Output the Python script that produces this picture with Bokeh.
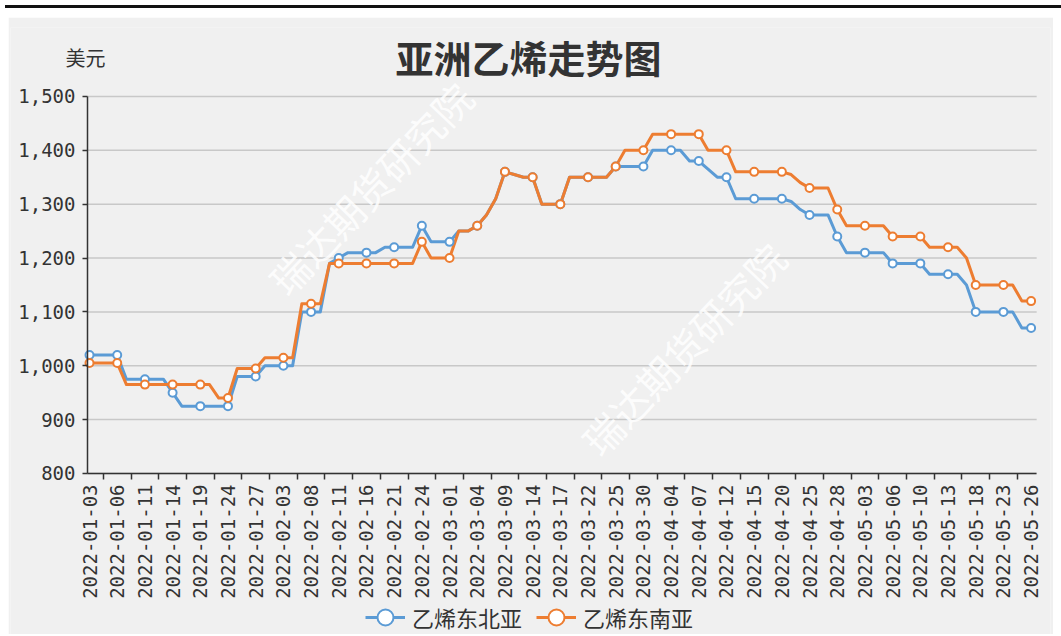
import math
from bokeh.plotting import figure
from bokeh.models import (Range1d, FixedTicker, NumeralTickFormatter, Label, Legend,
                          LegendItem, ColumnDataSource, Div)
from bokeh.layouts import column
from bokeh.embed import file_html
from bokeh.resources import INLINE

# ---------------- data ----------------
month_days = [
    "01-03","01-04","01-05","01-06","01-07","01-10","01-11","01-12","01-13","01-14",
    "01-17","01-18","01-19","01-20","01-21","01-24","01-25","01-26","01-27","01-28","01-31",
    "02-03","02-04","02-07","02-08","02-09","02-10","02-11","02-14","02-15","02-16",
    "02-17","02-18","02-21","02-22","02-23","02-24","02-25","02-28",
    "03-01","03-02","03-03","03-04","03-07","03-08","03-09","03-10","03-11","03-14",
    "03-15","03-16","03-17","03-18","03-21","03-22","03-23","03-24","03-25","03-28",
    "03-29","03-30","03-31",
    "04-01","04-04","04-05","04-06","04-07","04-08","04-11","04-12","04-13","04-14",
    "04-15","04-18","04-19","04-20","04-21","04-22","04-25","04-26","04-27","04-28","04-29",
    "05-02","05-03","05-04","05-05","05-06","05-07","05-09","05-10","05-11","05-12",
    "05-13","05-16","05-17","05-18","05-19","05-20","05-23","05-24","05-25","05-26",
]
dates = ["2022-" + d for d in month_days]

ne_asia = [
    1020, 1020, 1020, 1020,
    975, 975, 975, 975, 975,
    950,
    925, 925, 925, 925, 925, 925,
    980, 980, 980,
    1000, 1000, 1000, 1000,
    1100, 1100, 1100,
    1190, 1200,
    1210, 1210, 1210, 1210,
    1220, 1220, 1220, 1220,
    1260,
    1230, 1230, 1230,
    1250, 1250,
    1260, 1280, 1310, 1360, 1355, 1350, 1350,
    1300, 1300, 1300,
    1350, 1350, 1350, 1350, 1350,
    1370, 1370, 1370, 1370,
    1400, 1400, 1400, 1400,
    1380, 1380,
    1365, 1350, 1350,
    1310, 1310, 1310, 1310, 1310, 1310,
    1305, 1290,
    1280, 1280, 1280,
    1240,
    1210, 1210, 1210, 1210, 1210,
    1190, 1190, 1190, 1190,
    1170, 1170, 1170, 1170,
    1150,
    1100, 1100, 1100, 1100, 1100,
    1070, 1070,
]

se_asia = [
    1005, 1005, 1005, 1005,
    965, 965, 965, 965, 965, 965, 965, 965, 965, 965,
    940, 940,
    995, 995, 995,
    1015, 1015, 1015, 1015,
    1115, 1115, 1115,
    1190, 1190, 1190, 1190, 1190, 1190, 1190, 1190, 1190, 1190,
    1230,
    1200, 1200, 1200,
    1250, 1250,
    1260, 1280, 1310, 1360, 1355, 1350, 1350,
    1300, 1300, 1300,
    1350, 1350, 1350, 1350, 1350,
    1370,
    1400, 1400, 1400,
    1430, 1430, 1430, 1430, 1430, 1430,
    1400, 1400, 1400,
    1360, 1360, 1360, 1360, 1360, 1360,
    1355, 1340,
    1330, 1330, 1330,
    1290,
    1260, 1260, 1260, 1260, 1260,
    1240, 1240, 1240, 1240,
    1220, 1220, 1220, 1220,
    1200,
    1150, 1150, 1150, 1150, 1150,
    1120, 1120,
]

series_names = ["乙烯东北亚", "乙烯东南亚"]
y_ticks = [800, 900, 1000, 1100, 1200, 1300, 1400, 1500]
title_text = "亚洲乙烯走势图"
unit_text = "美元"
watermark = "瑞达期货研究院"

# ---------------- styling ----------------
BG = "#f0f0f0"
BLUE = "#5b9bd5"
ORANGE = "#ed7d31"
TXT = "#333333"
CJK = "Noto Sans CJK SC"
NUM = "DejaVu Sans Mono"

n = len(dates)
idx = list(range(n))
label_step = 3
label_idx = [i for i in idx if i % label_step == 0]

X0, X1 = -0.22, 102.6          # extent of the plotted axis
src = ColumnDataSource(dict(x=idx, ne=ne_asia, se=se_asia))
msrc = ColumnDataSource(dict(x=label_idx,
                             ne=[ne_asia[i] for i in label_idx],
                             se=[se_asia[i] for i in label_idx]))
gsrc = ColumnDataSource(dict(y=y_ticks, x0=[X0] * len(y_ticks), x1=[X1] * len(y_ticks)))

W, H = 1045, 617
Y_TOP = 1628   # room above the axis for title / unit
Y_BOT = 501    # room below the axis for tick labels / legend
p = figure(width=W, height=H, output_backend="svg", toolbar_location=None,
           x_range=Range1d(-8.56, 104.1), y_range=Range1d(Y_BOT, Y_TOP),
           min_border_left=2, min_border_right=3, min_border_top=10, min_border_bottom=0,
           background_fill_color=BG, border_fill_color=BG, outline_line_color=None)
p.margin = (0, 0, 0, 8)

# grid lines (only across the axis extent)
p.xgrid.visible = False
p.ygrid.visible = False
p.segment(x0="x0", x1="x1", y0="y", y1="y", source=gsrc,
          line_color="#c8c8c8", line_width=1.5)

# x axis, pinned at y = 800
xa = p.xaxis[0]
xa.fixed_location = 800
xa.bounds = (X0, X1)
xa.ticker = FixedTicker(ticks=label_idx, minor_ticks=[i + 1.5 for i in label_idx[:-1]])
xa.major_label_overrides = {i: dates[i] for i in label_idx}
xa.major_label_orientation = math.pi / 2
xa.major_tick_line_color = None
xa.major_tick_out = 6
xa.major_tick_in = 0
xa.minor_tick_line_color = TXT
xa.minor_tick_out = 6
xa.minor_tick_in = 0
xa.minor_tick_line_width = 1.5
xa.major_label_standoff = 5
xa.axis_line_color = TXT
xa.axis_line_width = 1.5
xa.major_label_text_font = NUM
xa.major_label_text_font_size = "19px"
xa.major_label_text_color = TXT

# y axis, pinned at the left end of the x extent
ya = p.yaxis[0]
ya.fixed_location = X0
ya.ticker = FixedTicker(ticks=y_ticks)
ya.bounds = (800, 1500)
ya.formatter = NumeralTickFormatter(format="0,0")
ya.major_tick_out = 5
ya.major_tick_in = 0
ya.major_tick_line_color = TXT
ya.major_tick_line_width = 1.5
ya.minor_tick_line_color = None
ya.axis_line_color = TXT
ya.axis_line_width = 1.5
ya.major_label_standoff = 7
ya.major_label_text_font = NUM
ya.major_label_text_font_size = "19px"
ya.major_label_text_color = TXT

# watermarks
for wx, wy in [(30.4, 1330), (64.3, 1032)]:
    p.add_layout(Label(x=wx, y=wy, text=watermark, angle=0.81,
                       text_align="center", text_baseline="middle",
                       text_font=CJK, text_font_size="39px",
                       text_color="white", text_alpha=0.85))

# lines and markers
l_ne = p.line("x", "ne", source=src, color=BLUE, line_width=3, line_join="round")
l_se = p.line("x", "se", source=src, color=ORANGE, line_width=3, line_join="round")
m_ne = p.scatter("x", "ne", source=msrc, size=8, fill_color="white",
                 line_color=BLUE, line_width=2)
m_se = p.scatter("x", "se", source=msrc, size=8, fill_color="white",
                 line_color=ORANGE, line_width=2)

# title and unit (inside the frame, above the 1500 line)
p.add_layout(Label(x=47.56, y=1574, text=title_text, text_align="center",
                   text_baseline="middle", text_font=CJK, text_font_size="38px",
                   text_font_style="bold", text_color=TXT))
p.add_layout(Label(x=-0.43, y=1572, text=unit_text, text_align="center",
                   text_baseline="middle", text_font=CJK, text_font_size="20px",
                   text_color=TXT))

legend = Legend(items=[LegendItem(label=series_names[0], renderers=[l_ne, m_ne]),
                       LegendItem(label=series_names[1], renderers=[l_se, m_se])],
                orientation="horizontal", location=(355, -3),
                glyph_width=40, glyph_height=40, label_standoff=7, spacing=14,
                padding=0, margin=0, background_fill_alpha=0, border_line_color=None,
                label_text_font=CJK, label_text_font_size="22px", label_text_color=TXT)
p.add_layout(legend)

top_line = Div(text="", width=1061, height=3, styles={"background-color": "#111111"})
layout = column(top_line, p, spacing=4)

open("out.html", "w").write(file_html(layout, INLINE))
